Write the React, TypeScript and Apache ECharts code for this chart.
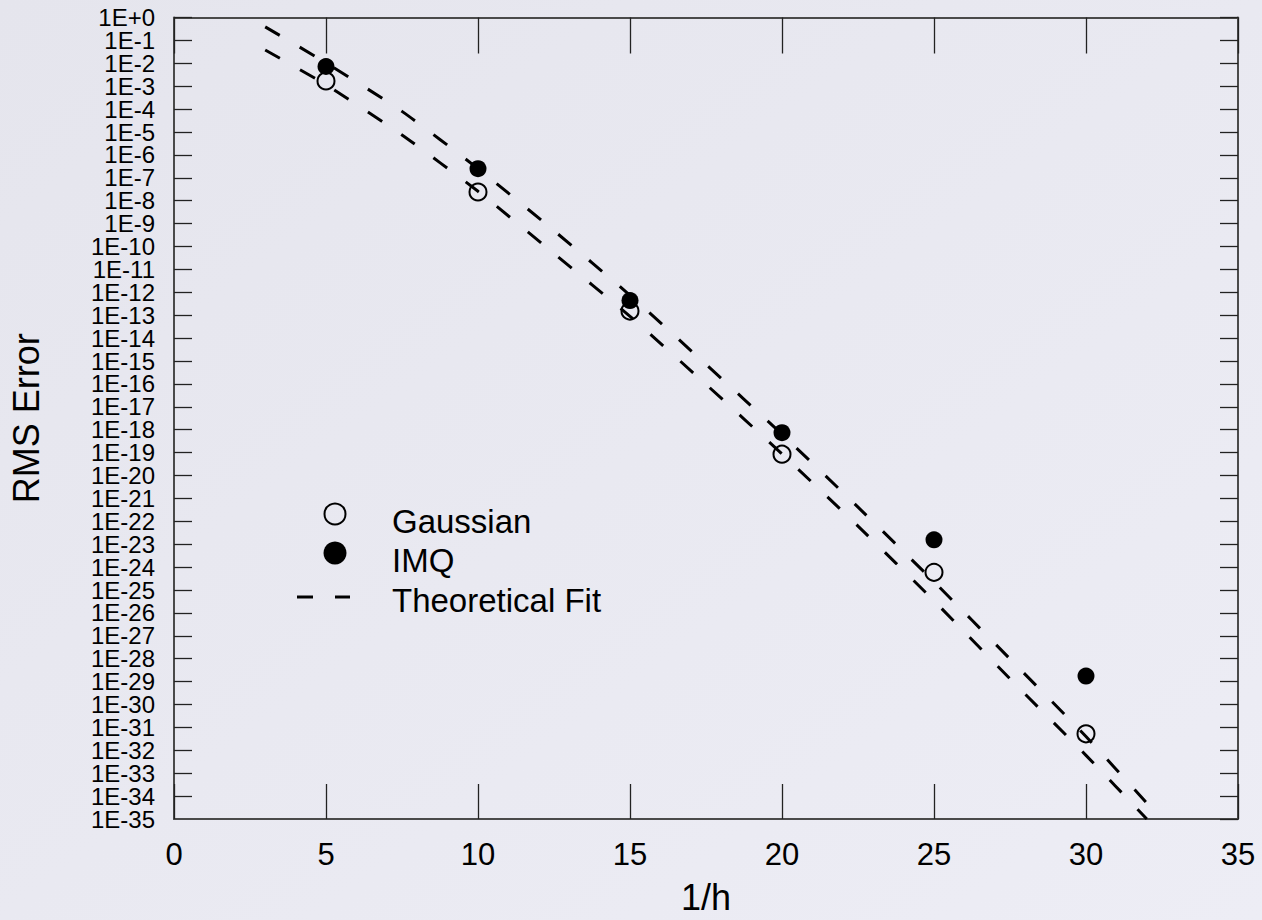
import React, { useEffect, useRef } from "react";
import * as echarts from "echarts";

// 1/h at which the errors were measured
const inverseH = [5, 10, 15, 20, 25, 30];
// log10 of the RMS error for each basis function
const gaussianLog10 = [-2.77, -7.62, -12.82, -19.07, -24.23, -31.28];
const imqLog10 = [-2.14, -6.6, -12.36, -18.13, -22.81, -28.76];

// theoretical fit curves (log10 of error), sampled along 1/h
const fitX = [3, 5, 7.5, 10, 12.5, 15, 17.5, 20, 22.5, 25, 27.5, 30, 32];
const fitUpperLog10 = [
  -0.41, -1.98, -4.1, -6.6, -9.31, -12.13, -15.15, -18.2, -21.38, -24.64, -28.01, -31.4, -34.3,
];
const fitLowerLog10 = [
  -1.42, -2.94, -5.13, -7.59, -10.31, -13.05, -16.02, -19.06, -22.21, -25.47, -28.88, -32.22, -35.0,
];

// axis ranges
const xRange = [0, 35];
const xStep = 5;
const yRange = [-35, 0];
const yStep = 1;

const legendLabels = ["Gaussian", "IMQ", "Theoretical Fit"];

const FONT = "'Liberation Sans', Arial, sans-serif";

const pairs = (xs: number[], ys: number[]) => xs.map((x, i) => [x, ys[i]]);
const decadeLabel = (v: number) => (v === 0 ? "1E+0" : `1E${v}`);

export default function App() {
  const ref = useRef<HTMLDivElement>(null);

  useEffect(() => {
    if (!ref.current) return;
    const chart = echarts.init(ref.current, undefined, { renderer: "svg" });

    const axisLine = { show: true, onZero: false, lineStyle: { color: "#4a4a4a", width: 2 } };
    const tickStyle = { color: "#222", width: 1.3 };

    const fitLine = (data: number[][]) => ({
      type: "line" as const,
      name: legendLabels[2],
      data,
      smooth: 0.2,
      symbol: "none",
      lineStyle: { color: "#000", width: 3, type: [17, 23] },
      z: 3,
    });

    // decade labels are split over two coincident left axes (even / odd
    // exponents) so the tightly packed labels are all kept
    const decadeAxis = (even: boolean) => ({
      type: "value" as const,
      min: yRange[0],
      max: yRange[1],
      interval: yStep,
      position: "left" as const,
      axisLine: even ? axisLine : { show: false, onZero: false },
      axisTick: even
        ? { show: true, inside: true, length: 18, lineStyle: tickStyle }
        : { show: false },
      axisLabel: {
        color: "#000",
        fontSize: 24,
        margin: 19,
        fontFamily: FONT,
        showMinLabel: !even,
        showMaxLabel: even,
        formatter: (v: number) => ((Math.abs(v) % 2 === 0) === even ? decadeLabel(v) : ""),
      },
      splitLine: { show: false },
    });

    chart.setOption({
      animation: false,
      backgroundColor: {
        type: "linear",
        x: 0,
        y: 0,
        x2: 1,
        y2: 1,
        colorStops: [
          { offset: 0, color: "#e5e5ed" },
          { offset: 1, color: "#ededf5" },
        ],
      },
      textStyle: { fontFamily: FONT },
      grid: { left: 172, right: 24, top: 17.5, bottom: 100.5, containLabel: false },
      xAxis: [
        {
          type: "value",
          min: xRange[0],
          max: xRange[1],
          interval: xStep,
          position: "bottom",
          axisLine,
          axisTick: { show: true, inside: true, length: 35, lineStyle: tickStyle },
          axisLabel: {
            color: "#000",
            fontSize: 31,
            margin: 20,
            fontFamily: FONT,
            showMinLabel: true,
            showMaxLabel: true,
          },
          splitLine: { show: false },
          name: "1/h",
          nameLocation: "middle",
          nameGap: 60,
          nameTextStyle: { color: "#000", fontSize: 36, fontFamily: FONT },
        },
        {
          type: "value",
          min: xRange[0],
          max: xRange[1],
          interval: xStep,
          position: "top",
          axisLine,
          axisTick: { show: true, inside: true, length: 36, lineStyle: tickStyle },
          axisLabel: { show: false },
          splitLine: { show: false },
        },
      ],
      yAxis: [
        {
          ...decadeAxis(true),
          name: "RMS Error",
          nameLocation: "middle",
          nameGap: 130,
          nameRotate: 90,
          nameTextStyle: { color: "#000", fontSize: 36, fontFamily: FONT },
        },
        decadeAxis(false),
        {
          type: "value",
          min: yRange[0],
          max: yRange[1],
          interval: yStep,
          position: "right",
          axisLine,
          axisTick: { show: true, inside: true, length: 18, lineStyle: tickStyle },
          axisLabel: { show: false },
          splitLine: { show: false },
        },
      ],
      series: [
        fitLine(pairs(fitX, fitUpperLog10)),
        fitLine(pairs(fitX, fitLowerLog10)),
        {
          type: "scatter",
          name: legendLabels[0],
          data: pairs(inverseH, gaussianLog10),
          symbol: "circle",
          symbolSize: 17,
          itemStyle: { color: "rgba(0,0,0,0)", borderColor: "#000", borderWidth: 2, opacity: 1 },
          z: 4,
        },
        {
          type: "scatter",
          name: legendLabels[1],
          data: pairs(inverseH, imqLog10),
          symbol: "circle",
          symbolSize: 17,
          itemStyle: { color: "#000", opacity: 1 },
          z: 4,
        },
      ],
      graphic: [
        {
          type: "circle",
          shape: { cx: 335, cy: 514, r: 10.5 },
          style: { fill: "none", stroke: "#000", lineWidth: 2 },
        },
        {
          type: "circle",
          shape: { cx: 335, cy: 553, r: 11.5 },
          style: { fill: "#000" },
        },
        {
          type: "line",
          shape: { x1: 297, y1: 597, x2: 313, y2: 597 },
          style: { stroke: "#000", lineWidth: 3 },
        },
        {
          type: "line",
          shape: { x1: 335, y1: 597, x2: 350, y2: 597 },
          style: { stroke: "#000", lineWidth: 3 },
        },
        ...legendLabels.map((t, i) => ({
          type: "text",
          x: 392,
          y: [521, 560, 600][i],
          style: {
            text: t,
            fill: "#000",
            font: `33px ${FONT}`,
            textVerticalAlign: "middle",
            textAlign: "left",
          },
        })),
      ],
    });

    return () => chart.dispose();
  }, []);

  return (
    <div
      ref={ref}
      style={{ position: "absolute", left: 0, top: 0, width: 1262, height: 920 }}
    />
  );
}
